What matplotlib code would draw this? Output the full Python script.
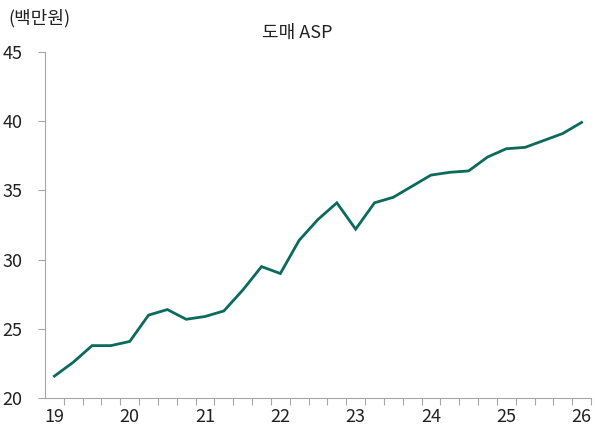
import numpy as np
import matplotlib
matplotlib.use("Agg")
import matplotlib.pyplot as plt
from matplotlib.ticker import FixedLocator

plt.rcParams['font.family'] = ['Noto Sans CJK KR', 'DejaVu Sans']

# quarterly data, 19.1Q ~ 26.1Q
quarters = [f"{y}.{q}Q" for y in range(19, 26) for q in range(1, 5)] + ["26.1Q"]
asp = [21.6, 22.6, 23.8, 23.8, 24.1, 26.0, 26.4, 25.7, 25.9, 26.3,
       27.8, 29.5, 29.0, 31.4, 32.9, 34.1, 32.2, 34.1, 34.5, 35.3,
       36.1, 36.3, 36.4, 37.4, 38.0, 38.1, 38.6, 39.1, 39.9]
year_labels = ["19", "20", "21", "22", "23", "24", "25", "26"]

line_color = "#0a6b5c"
axis_color = "#a6a6a6"
text_color = "#222222"
fs = 13

fig = plt.figure(figsize=(5.95, 4.28), dpi=100)
ax = fig.add_axes([45 / 595, 1 - 398.3 / 428, 546 / 595, (398.3 - 51.7) / 428])

x = np.arange(len(quarters))
ax.plot(x, asp, color=line_color, linewidth=2.0, solid_joinstyle='miter')

ax.set_xlim(-0.5, len(quarters) - 0.5)
ax.set_ylim(20, 45)
ax.set_yticks([20, 25, 30, 35, 40, 45])

# year labels at each Q1, tick marks at category boundaries
ax.set_xticks(x[::4])
ax.set_xticklabels(year_labels)
ax.xaxis.set_minor_locator(FixedLocator(np.arange(0.5, len(quarters), 1)))
ax.tick_params(axis='x', which='major', length=0, pad=7, labelsize=fs, colors=text_color)
ax.tick_params(axis='x', which='minor', length=5, width=0.8, color=axis_color, direction='out')
ax.tick_params(axis='y', length=5, width=0.8, color=axis_color, pad=11, labelsize=fs,
               labelcolor=text_color)

for side in ['top', 'right']:
    ax.spines[side].set_visible(False)
for side in ['left', 'bottom']:
    ax.spines[side].set_color(axis_color)
    ax.spines[side].set_linewidth(0.8)

fig.text(8 / 595, 1 - 18 / 428, "(백만원)", ha='left', va='center', fontsize=fs, color=text_color)
fig.text(297 / 595, 1 - 33 / 428, "도매 ASP", ha='center', va='center', fontsize=fs, color=text_color)

fig.savefig("out.png", dpi=100)
